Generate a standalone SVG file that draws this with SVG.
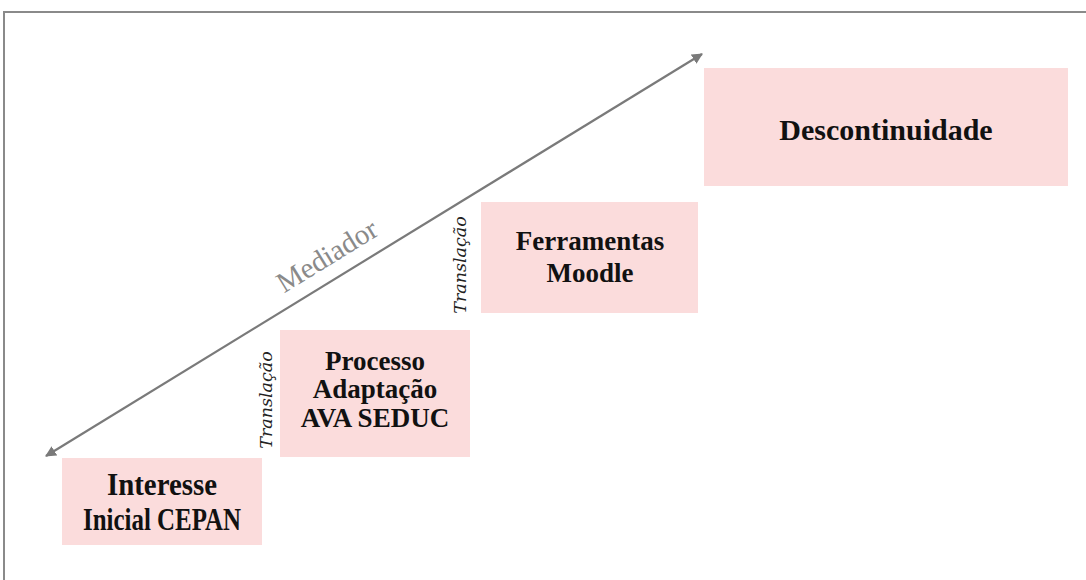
<svg xmlns="http://www.w3.org/2000/svg" width="1086" height="580" viewBox="0 0 1086 580">
<defs>
<style>
.box{fill:#fbdcdc;}
.lbl{font-family:"Liberation Serif",serif;font-weight:bold;font-size:27px;fill:#111;text-anchor:middle;}
.tr{font-family:"DejaVu Serif",serif;font-style:italic;font-size:17.5px;fill:#222;text-anchor:middle;}
.med{font-family:"Liberation Serif",serif;font-size:29px;fill:#8a8a8a;text-anchor:middle;}
</style>
<marker id="ah" viewBox="0 0 10 10" refX="9" refY="5" markerWidth="5" markerHeight="5" orient="auto-start-reverse" markerUnits="strokeWidth">
<path d="M0,0 L10,5 L0,10 z" fill="#7a7a7a"/>
</marker>
</defs>
<rect width="1086" height="580" fill="#ffffff"/>
<path d="M4,580 V12 H1086" fill="none" stroke="#8a8a8a" stroke-width="2"/>
<g id="connectors">
<line x1="46" y1="456" x2="702" y2="54" stroke="#7a7a7a" stroke-width="2.2" marker-start="url(#ah)" marker-end="url(#ah)"/>
<text class="med" transform="translate(332,264) rotate(-31.6)">Mediador</text>
<text class="tr" transform="translate(272,400) rotate(-90)">Translação</text>
<text class="tr" transform="translate(466,265) rotate(-90)">Translação</text>
</g>
<g id="n1">
<rect class="box" x="62" y="458" width="200" height="87"/>
<text class="lbl" x="162" y="495" textLength="110" lengthAdjust="spacingAndGlyphs" style="font-size:31px">Interesse</text>
<text class="lbl" x="162" y="530" textLength="158" lengthAdjust="spacingAndGlyphs" style="font-size:31px">Inicial CEPAN</text>
</g>
<g id="n2">
<rect class="box" x="280" y="330" width="190" height="127"/>
<text class="lbl" x="375" y="370">Processo</text>
<text class="lbl" x="375" y="398">Adaptação</text>
<text class="lbl" x="375" y="427">AVA SEDUC</text>
</g>
<g id="n3">
<rect class="box" x="481" y="202" width="217" height="111"/>
<text class="lbl" x="590" y="250">Ferramentas</text>
<text class="lbl" x="590" y="282">Moodle</text>
</g>
<g id="n4">
<rect class="box" x="704" y="68" width="364" height="118"/>
<text class="lbl" x="886" y="140" style="font-size:30px">Descontinuidade</text>
</g>
</svg>
